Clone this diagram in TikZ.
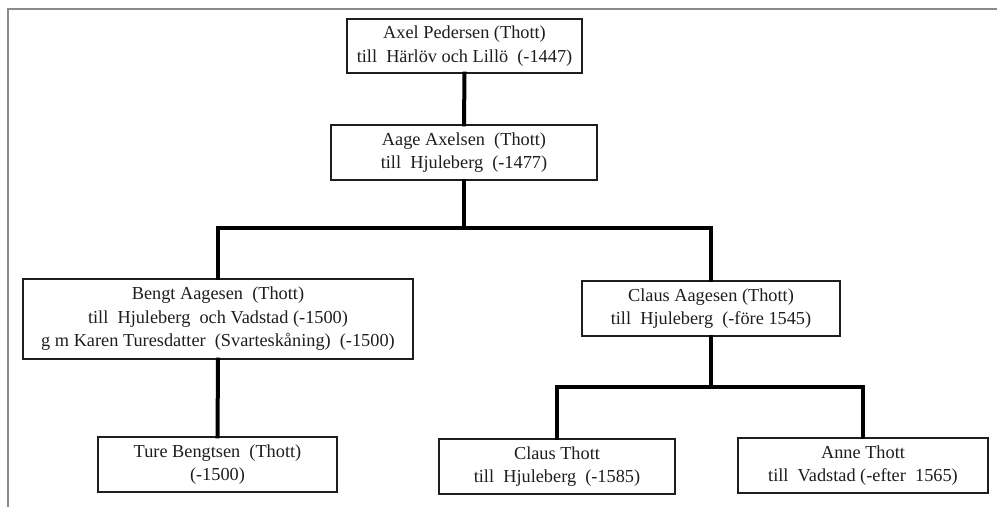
\documentclass[tikz,border=0pt]{standalone}
\usepackage{fontspec}
\setmainfont{Liberation Serif}
\definecolor{inkc}{HTML}{1E1E1E}
\definecolor{framec}{HTML}{8A8A8A}
\begin{document}
\begin{tikzpicture}[x=1pt,y=-1pt,
  person/.style={draw=inkc, line width=1.1pt, fill=white, text=inkc, inner sep=0pt,
    align=center, font=\fontsize{18.3}{23.5}\selectfont},
  conn/.style={draw=black, line width=4pt, line join=miter, line cap=rect}]
\useasboundingbox (0,0) rectangle (997,507);
\fill[white] (0,0) rectangle (997,507);
\draw[framec, line width=1.3pt] (8,507) -- (8,9) -- (997,9);

\coordinate (bar1) at (0,228);
\coordinate (bar2) at (0,387);

% connectors first (under boxes)
\node[person, minimum width=235pt, minimum height=54pt] (axel) at (464.5,46)
  {Axel Pedersen (Thott)\\till\ \ Härlöv och Lillö\ \ (-1447)};
\node[person, minimum width=266pt, minimum height=55pt] (aage) at (464,152.5)
  {Aage Axelsen\ \ (Thott)\\till\ \ Hjuleberg\ \ (-1477)};
\node[person, minimum width=390pt, minimum height=80pt] (bengt) at (218,319)
  {Bengt Aagesen\ \ (Thott)\\till\ \ Hjuleberg\ \ och Vadstad (-1500)\\g m Karen Turesdatter\ \ (Svarteskåning)\ \ (-1500)};
\node[person, minimum width=258pt, minimum height=55pt] (clausa) at (711,308.5)
  {Claus Aagesen (Thott)\\till\ \ Hjuleberg\ \ (-före 1545)};
\node[person, minimum width=239pt, minimum height=55pt] (ture) at (217.5,464.5)
  {Ture Bengtsen\ \ (Thott)\\(-1500)};
\node[person, minimum width=236pt, minimum height=55pt] (claust) at (557,466.5)
  {Claus Thott\\till\ \ Hjuleberg\ \ (-1585)};
\node[person, minimum width=250pt, minimum height=55pt] (anne) at (863,465.5)
  {Anne Thott\\till\ \ Vadstad (-efter\ \ 1565)};

\draw[conn] (axel.south) -- (aage.north);
\draw[conn] (aage.south) -- (aage.south |- bar1);
\draw[conn] (bengt.north) -- (bengt.north |- bar1) -- (clausa.north |- bar1) -- (clausa.north);
\draw[conn] (bengt.south) -- (ture.north);
\draw[conn] (clausa.south) -- (clausa.south |- bar2);
\draw[conn] (claust.north) -- (claust.north |- bar2) -- (anne.north |- bar2) -- (anne.north);
\end{tikzpicture}
\end{document}
